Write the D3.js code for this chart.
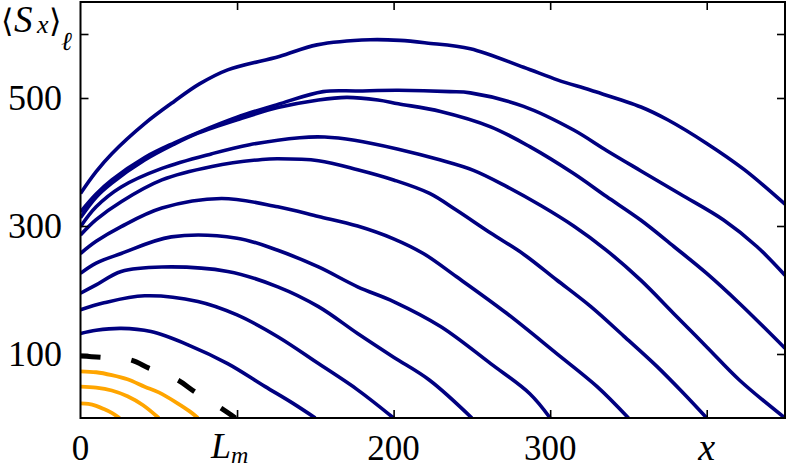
<!DOCTYPE html>
<html>
<head>
<meta charset="utf-8">
<script src="https://cdn.jsdelivr.net/npm/d3@7/dist/d3.min.js"></script>
<style>
  body { margin: 0; background: #fff; }
  text { font-family: 'Liberation Serif', 'DejaVu Serif', serif; fill: #000; }
</style>
</head>
<body>
<svg id="chart" width="787" height="469"></svg>
<script>
// tick positions and labels
const xTicks = [100, 200, 300, 400]
const yTicks = [100, 300, 500, 600]
const xTickLabels = [[0, '0'], [200, '200'], [300, '300']]
const yTickLabels = [[100, '100'], [300, '300'], [500, '500']]

// blue curves, named by where they hit the x axis
const blue150 = [[0, 132], [10, 137], [26, 140], [45, 135], [69, 114], [94, 85], [118, 49], [135, 24], [150, 0]]
const blue200 = [[0, 169], [15, 180], [41, 191], [75, 182], [100, 161], [126, 127], [152, 85], [177, 44], [200, 0]]
const blue250 = [[0, 195], [10, 208], [26, 229], [52, 236], [94, 229], [126, 205], [152, 174], [177, 132], [200, 95], [223, 59], [250, 0]]
const blue300 = [[0, 226], [10, 242], [26, 257], [58, 283], [100, 281], [126, 262], [152, 236], [177, 205], [200, 182], [230, 143], [262, 85], [287, 38], [300, 0]]
const blue350 = [[0, 257], [10, 276], [26, 299], [52, 328], [90, 343], [126, 330], [152, 315], [177, 300], [200, 280], [219, 257], [240, 221], [272, 164], [304, 101], [330, 49], [350, 0]]
const blue400 = [[0, 286], [10, 310], [26, 338], [52, 372], [84, 393], [116, 404], [126, 405], [152, 402], [177, 388], [200, 372], [223, 351], [240, 325], [262, 289], [283, 256], [304, 216], [326, 174], [347, 128], [368, 81], [385, 39], [400, 0]]
const blue450 = [[0, 299], [10, 330], [26, 361], [52, 390], [84, 413], [108, 427], [140, 438], [156, 439], [175, 434], [203, 420], [230, 403], [251, 387], [272, 362], [294, 332], [315, 300], [336, 262], [358, 215], [379, 163], [400, 111], [421, 59], [450, 0]]
const blueA = [[0, 313], [10, 345], [20, 367], [41, 403], [60, 428], [75, 445], [100, 466], [126, 485], [152, 497], [170, 501], [190, 497], [203, 491], [230, 479], [262, 455], [287, 424], [315, 382], [336, 346], [358, 309], [379, 268], [400, 226], [421, 179], [450, 109]]
const blueB = [[0, 322], [10, 350], [20, 372], [41, 407], [60, 430], [75, 446], [100, 470], [126, 490], [155, 510], [177, 511], [203, 512], [236, 510], [249, 508], [283, 487], [315, 450], [336, 418], [358, 386], [383, 350], [411, 309], [432, 268], [450, 223]]
const blueC = [[0, 351], [10, 385], [20, 413], [41, 460], [60, 495], [76, 522], [94, 544], [127, 565], [151, 583], [185, 591], [204, 590], [221, 586], [249, 577], [283, 548], [305, 528], [326, 512], [358, 486], [375, 466], [400, 429], [424, 388], [450, 334]]
const blueSeries = [blue150, blue200, blue250, blue300, blue350, blue400, blue450, blueA, blueB, blueC]

// orange curves and the dashed black one
const orange25 = [[0, 23], [5, 22], [10, 19], [15, 14], [20, 8], [25, 0]]
const orange50 = [[0, 49], [10, 47.5], [20, 43], [30, 34], [40, 20], [50, 0]]
const orange75 = [[0, 73], [10, 71.5], [20, 67], [30, 60.5], [41, 49], [50, 40], [62, 23], [70, 10], [75, 0]]
const orangeSeries = [orange25, orange50, orange75]
const dashed100 = [[0, 97], [13, 95], [32, 90.6], [44, 77.6], [62, 59.4], [73, 41], [90, 15], [99, 0]]

const svg = d3.select('#chart')
const x = d3.scaleLinear().domain([0, 450]).range([80.5, 785])
const y = d3.scaleLinear().domain([0, 650]).range([418, 2])

svg.append('defs').append('clipPath').attr('id', 'plot')
  .append('rect')
  .attr('x', x(0)).attr('y', y(650))
  .attr('width', x(450) - x(0)).attr('height', y(0) - y(650))

const line = d3.line()
  .x(d => x(d[0]))
  .y(d => y(d[1]))
  .curve(d3.curveCatmullRom.alpha(0.5))

const g = svg.append('g').attr('clip-path', 'url(#plot)')

g.selectAll('.blue')
  .data(blueSeries)
  .enter()
  .append('path')
  .attr('class', 'blue')
  .attr('d', line)
  .style('fill', 'none')
  .style('stroke', '#000080')
  .style('stroke-width', '3.6px')

g.selectAll('.orange')
  .data(orangeSeries)
  .enter()
  .append('path')
  .attr('class', 'orange')
  .attr('d', line)
  .style('fill', 'none')
  .style('stroke', '#ffa500')
  .style('stroke-width', '3.8px')

g.append('path')
  .datum(dashed100)
  .attr('d', line)
  .style('fill', 'none')
  .style('stroke', '#000')
  .style('stroke-width', '5px')
  .style('stroke-dasharray', '20,31')

// ticks pointing inwards on all four sides
const tickLen = 8
svg.append('g').attr('transform', 'translate(0,' + y(0) + ')')
  .call(d3.axisBottom(x).tickValues(xTicks).tickSize(-tickLen).tickSizeOuter(0).tickFormat(''))
svg.append('g').attr('transform', 'translate(0,' + y(650) + ')')
  .call(d3.axisTop(x).tickValues(xTicks).tickSize(-tickLen).tickSizeOuter(0).tickFormat(''))
svg.append('g').attr('transform', 'translate(' + x(0) + ',0)')
  .call(d3.axisLeft(y).tickValues(yTicks).tickSize(-tickLen).tickSizeOuter(0).tickFormat(''))
svg.append('g').attr('transform', 'translate(' + x(450) + ',0)')
  .call(d3.axisRight(y).tickValues(yTicks).tickSize(-tickLen).tickSizeOuter(0).tickFormat(''))
svg.selectAll('.tick line').style('stroke', '#000').style('stroke-width', '1.6px')
svg.selectAll('.domain').remove()

// frame
svg.append('rect')
  .attr('x', x(0)).attr('y', y(650))
  .attr('width', x(450) - x(0)).attr('height', y(0) - y(650))
  .style('fill', 'none')
  .style('stroke', '#000')
  .style('stroke-width', '2px')

// tick labels
svg.selectAll('.xl')
  .data(xTickLabels)
  .enter()
  .append('text')
  .attr('x', d => x(d[0]))
  .attr('y', 460)
  .attr('text-anchor', 'middle')
  .style('font-size', '35px')
  .text(d => d[1])

svg.selectAll('.yl')
  .data(yTickLabels)
  .enter()
  .append('text')
  .attr('x', 62)
  .attr('y', d => y(d[0]) + 12)
  .attr('text-anchor', 'end')
  .style('font-size', '36px')
  .text(d => d[1])

// L_m under the 100 tick
const lm = svg.append('text').attr('x', x(100) - 26).attr('y', 458).style('font-size', '36px')
lm.append('tspan').style('font-style', 'italic').text('L')
lm.append('tspan').attr('dy', 5).style('font-size', '24px').style('font-style', 'italic').text('m')

// x under the 400 tick
svg.append('text')
  .attr('x', x(400)).attr('y', 460)
  .attr('text-anchor', 'middle')
  .style('font-size', '38px')
  .style('font-style', 'italic')
  .text('x')

// y label at the 600 tick
const yl = svg.append('text').attr('y', 32).style('font-size', '37px')
yl.append('tspan').attr('x', 1).style('font-family', 'DejaVu Serif').style('font-size', '32px').text('\u27E8')
yl.append('tspan').attr('x', 14).style('font-style', 'italic').text('S')
yl.append('tspan').attr('x', 37).attr('y', 33).style('font-style', 'italic').style('font-size', '26px').text('x')
yl.append('tspan').attr('x', 49).attr('y', 32).style('font-family', 'DejaVu Serif').style('font-size', '32px').text('\u27E9')
yl.append('tspan').attr('x', 61).attr('y', 50).style('font-style', 'italic').style('font-size', '26px').text('\u2113')
</script>
</body>
</html>
